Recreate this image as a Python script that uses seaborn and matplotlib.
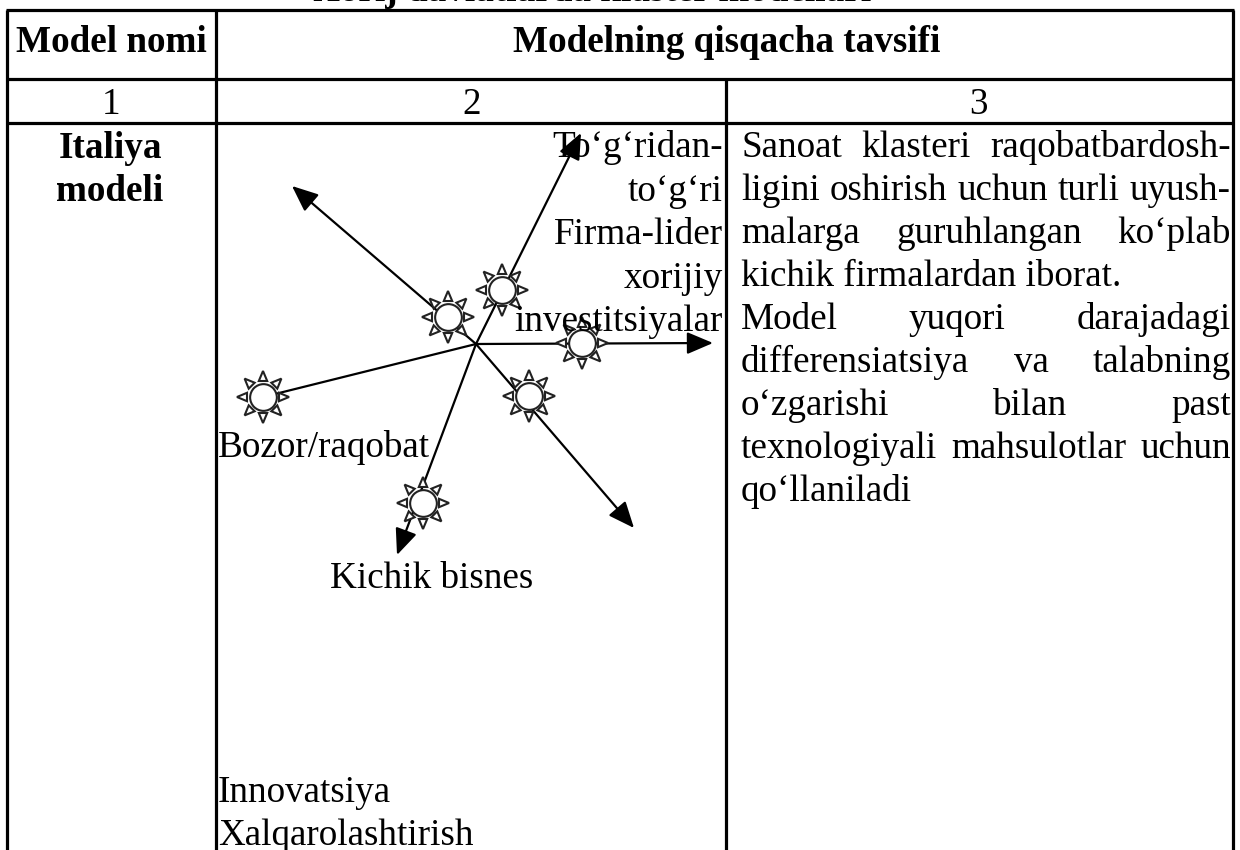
"""
Italiya modeli jadvali: klaster diagrammasi va tavsif matni
"""

import numpy as np
import matplotlib
matplotlib.use("Agg")
import matplotlib.pyplot as plt
import seaborn as sns

FONT = "Liberation Serif"

TITLE = "Xorij davlatlarda klaster modellari"
HEADER_COL1 = "Model nomi"
HEADER_COL2 = "Modelning qisqacha tavsifi"
COLUMN_NUMBERS = ["1", "2", "3"]
MODEL_NAME = ["Italiya", "modeli"]

DIAGRAM_RIGHT = ["To‘g‘ridan-", "to‘g‘ri", "Firma-lider", "xorijiy", "investitsiyalar"]
DIAGRAM_LOW = ["Innovatsiya", "Xalqarolashtirish"]

DESCRIPTION = [
    ("Sanoat klasteri raqobatbardosh-", True),
    ("ligini oshirish uchun turli uyush-", True),
    ("malarga guruhlangan ko‘plab", True),
    ("kichik firmalardan iborat.", False),
    ("Model yuqori darajadagi", True),
    ("differensiatsiya va talabning", True),
    ("o‘zgarishi bilan past", True),
    ("texnologiyali mahsulotlar uchun", True),
    ("qo‘llaniladi", False),
]

# diagramma markazi va strelkalar uchlari (piksel)
HUB = (476, 344)
ARROW_X = [581, 292, 713, 634, 397]
ARROW_Y = [133, 186, 343, 528, 555]

# "quyosh" tugunlari
NODE_X = [502, 448, 582, 529, 263, 423]
NODE_Y = [290, 317, 343, 396, 397, 503]

sns.set_theme(style="white")
plt.rcParams["font.family"] = [FONT, "DejaVu Serif"]
plt.rcParams["text.color"] = "black"

fig, ax = plt.subplots(figsize=(12.4, 8.5), dpi=100)
ax.set_position([0, 0, 1, 1])
ax.set_xlim(0, 1240)
ax.set_ylim(850, 0)
ax.axis("off")

SIZE = 26.7
LINE = 43.0


# ─────────────────────────────────────────────
# JADVAL CHIZIQLARI
# ─────────────────────────────────────────────
ax.hlines([10, 79, 123], 6, 1234, color="black", lw=2.3, zorder=5)
ax.vlines([7, 216, 1233], 10, 850, color="black", lw=2.3, zorder=5)
ax.vlines(726, 79, 850, color="black", lw=2.3, zorder=5)

# yuqoridan kesilgan sarlavha
ax.text(592, 0.5, TITLE, ha="center", va="baseline", fontsize=SIZE, weight="bold", clip_on=True)

ax.text(111, 52, HEADER_COL1, ha="center", va="baseline", fontsize=SIZE, weight="bold")
ax.text(727, 52, HEADER_COL2, ha="center", va="baseline", fontsize=SIZE, weight="bold")
for label, x in zip(COLUMN_NUMBERS, [111, 472, 978]):
    ax.text(x, 114, label, ha="center", va="baseline", fontsize=SIZE)
for i, label in enumerate(MODEL_NAME):
    ax.text(110, 158 + i * LINE, label, ha="center", va="baseline", fontsize=SIZE, weight="bold")


# ─────────────────────────────────────────────
# DIAGRAMMA
# ─────────────────────────────────────────────
for i, label in enumerate(DIAGRAM_RIGHT):
    ax.text(723, 157 + i * 43.5, label, ha="right", va="baseline", fontsize=SIZE, zorder=6)

for x, y in zip(ARROW_X, ARROW_Y):
    ax.annotate(
        "",
        xy=(x, y),
        xytext=HUB,
        arrowprops=dict(arrowstyle="-|>,head_length=0.8,head_width=0.34", color="black", lw=1.6,
                        shrinkA=0, shrinkB=0, mutation_scale=20),
        zorder=3,
    )
ax.plot([HUB[0], NODE_X[4]], [HUB[1], NODE_Y[4]], color="black", lw=1.6, zorder=1)


def draw_rays(cx, cy):
    for angle in np.deg2rad(np.arange(0, 360, 45)):
        ux, uy = np.cos(angle), np.sin(angle)
        px, py = -uy, ux
        xs = [cx + 26 * ux, cx + 16 * ux + 4.2 * px, cx + 16 * ux - 4.2 * px]
        ys = [cy + 26 * uy, cy + 16 * uy + 4.2 * py, cy + 16 * uy - 4.2 * py]
        ax.fill(xs, ys, facecolor="white", edgecolor="#222222", lw=1.5, zorder=3.5)


for cx, cy in zip(NODE_X, NODE_Y):
    draw_rays(cx, cy)

sns.scatterplot(x=NODE_X, y=NODE_Y, s=370, color="white", edgecolor="#222222", linewidth=1.5,
                ax=ax, zorder=4, legend=False, clip_on=False)

ax.text(218, 457, "Bozor/raqobat", ha="left", va="baseline", fontsize=SIZE, zorder=6)
ax.text(330, 588, "Kichik bisnes", ha="left", va="baseline", fontsize=SIZE, zorder=6)
for i, label in enumerate(DIAGRAM_LOW):
    ax.text(218, 802 + i * 43, label, ha="left", va="baseline", fontsize=SIZE)


# ─────────────────────────────────────────────
# TAVSIF MATNI (ikki tomonga tekislangan)
# ─────────────────────────────────────────────
def draw_justified(line, y, x0, x1, justify):
    renderer = fig.canvas.get_renderer()
    words = line.split()
    if not justify:
        ax.text(x0, y, line, ha="left", va="baseline", fontsize=SIZE)
        return
    items = [ax.text(x0, y, w, ha="left", va="baseline", fontsize=SIZE) for w in words]
    widths = [t.get_window_extent(renderer).width for t in items]
    gap = (x1 - x0 - sum(widths)) / (len(words) - 1)
    x = x0
    for t, w in zip(items, widths):
        t.set_x(x)
        x += w + gap


for i, (line, justify) in enumerate(DESCRIPTION):
    draw_justified(line, 157 + i * LINE, 741, 1231, justify)

plt.savefig("out.png", dpi=100)
